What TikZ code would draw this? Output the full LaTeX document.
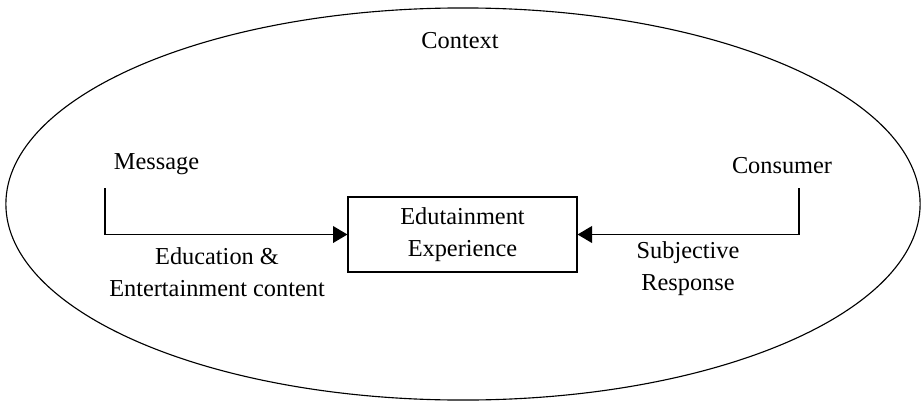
\documentclass[tikz,border=0pt]{standalone}
\usepackage{fontspec}
\setmainfont{Liberation Serif}
\usetikzlibrary{arrows.meta,shapes.geometric}
\begin{document}
\begin{tikzpicture}[
        x=0.025cm, y=-0.025cm,
        every node/.style={font=\fontsize{17.3}{22.7}\selectfont},
        expbox/.style={rectangle, draw=black, thick, minimum width=5.725cm, minimum height=1.875cm, align=center},
        flow/.style={-{Triangle[length=3.6mm,width=4.2mm]}, thick},
    ]
        \useasboundingbox (0,0) rectangle (921,401);

        %Nodes
        \node[ellipse, draw=black, thick, minimum width=22.85cm, minimum height=9.8cm] (ctx) at (463,204) {};
        \node (ctx_t) at (460,41) {Context};

        \node[expbox] (exp) at (462.5,234.5) {Edutainment\\Experience};

        \node (msg) at (156.5,164) {Message};
        \node (cons) at (782,166) {Consumer};

        \coordinate (msg_s) at (105,188);
        \coordinate (cons_s) at (799,188);

        \node[align=center] (edu_t) at (217,272) {Education \&\\Entertainment content};
        \node[align=center] (subj_t) at (688,269) {Subjective\\Response};

        %Lines
        \draw[flow] (msg_s) |- (exp.west);
        \draw[flow] (cons_s) |- (exp.east);
    \end{tikzpicture}
\end{document}
